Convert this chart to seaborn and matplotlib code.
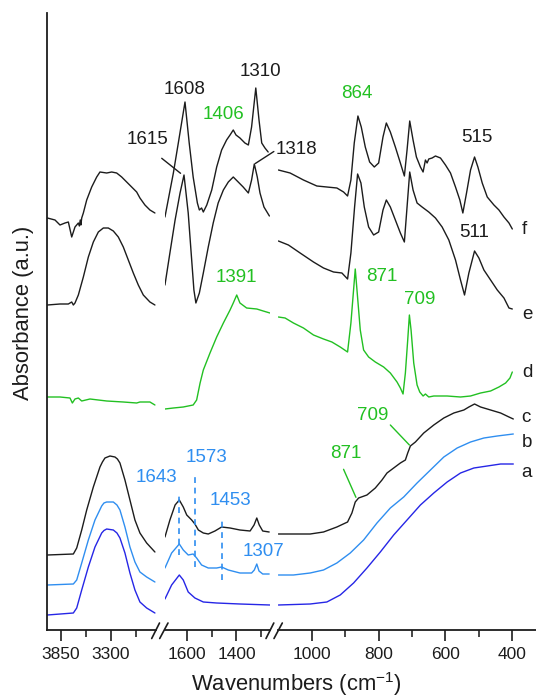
import matplotlib
matplotlib.use("Agg")
import numpy as np
import pandas as pd
import matplotlib.pyplot as plt
import seaborn as sns
from matplotlib.lines import Line2D

# ---------------- data (wavenumber in cm-1, absorbance in a.u., offset traces) ----------------
f_wn = [3997, 3913, 3858, 3803, 3766, 3729, 3693, 3656, 3645, 3635, 3628, 3619, 3601, 3564, 3509, 3454, 3418,
        3344, 3289, 3234, 3179, 3124, 3069, 3014, 2978, 2923, 2868, 2813,
        1689, 1655, 1635, 1608, 1591, 1575, 1558, 1550, 1541, 1534, 1520, 1500, 1480, 1460, 1440, 1426, 1413,
        1402, 1386, 1366, 1352, 1339, 1322, 1309, 1298, 1285, 1272,
        1100, 1065, 1025, 985, 955, 925, 905, 893, 883, 873, 862, 852, 840, 827, 813, 800, 787, 777, 765, 750,
        735, 723, 715, 707, 697, 687, 675, 667, 660, 655, 650, 640, 630, 615, 600, 585, 570, 557, 548, 537,
        525, 513, 503, 490, 475, 455, 440, 425, 410, 400]
f_abs = [4.12, 4.10, 4.05, 4.07, 4.08, 3.93, 4.03, 4.07, 4.04, 4.10, 4.05, 4.12, 4.17, 4.30, 4.43, 4.53, 4.58,
         4.57, 4.58, 4.57, 4.53, 4.48, 4.43, 4.38, 4.32, 4.25, 4.20, 4.17,
         4.13, 4.57, 4.87, 5.28, 4.87, 4.53, 4.27, 4.20, 4.22, 4.18, 4.25, 4.40, 4.63, 4.80, 4.90, 4.95, 5.00,
         4.95, 4.92, 4.87, 4.85, 5.03, 5.42, 5.10, 4.87, 4.82, 4.78,
         4.60, 4.57, 4.50, 4.44, 4.43, 4.42, 4.38, 4.34, 4.50, 4.87, 5.14, 5.03, 4.83, 4.68, 4.63, 4.67, 4.93,
         5.07, 4.98, 4.83, 4.67, 4.54, 4.80, 5.09, 4.90, 4.73, 4.63, 4.58, 4.70, 4.67, 4.71, 4.72, 4.74, 4.72,
         4.65, 4.57, 4.43, 4.30, 4.17, 4.37, 4.60, 4.73, 4.63, 4.47, 4.33, 4.25, 4.20, 4.13, 4.07, 4.01]

e_wn = [3997, 3858, 3766, 3729, 3711, 3693, 3656, 3601, 3546, 3491, 3436, 3381, 3326, 3271, 3216, 3161, 3106,
        3051, 2996, 2941, 2868, 2813,
        1689, 1669, 1648, 1628, 1612, 1595, 1581, 1572, 1564, 1550, 1534, 1514, 1494, 1474, 1453, 1433, 1413,
        1393, 1373, 1352, 1339, 1328, 1316, 1305, 1289, 1267,
        1100, 1070, 1035, 995, 965, 935, 910, 893, 883, 872, 863, 853, 843, 830, 815, 800, 787, 777, 765, 750,
        735, 723, 715, 707, 697, 685, 670, 650, 630, 610, 590, 570, 555, 543, 530, 513, 500, 485, 465, 445,
        425, 410, 400]
e_abs = [3.25, 3.26, 3.26, 3.28, 3.25, 3.27, 3.35, 3.53, 3.73, 3.88, 3.98, 4.02, 4.02, 3.99, 3.93, 3.83, 3.70,
         3.57, 3.45, 3.35, 3.28, 3.25,
         3.45, 3.77, 4.10, 4.37, 4.55, 4.17, 3.70, 3.40, 3.27, 3.37, 3.57, 3.83, 4.07, 4.27, 4.40, 4.48, 4.53,
         4.48, 4.43, 4.37, 4.50, 4.66, 4.53, 4.37, 4.23, 4.14,
         3.89, 3.85, 3.77, 3.68, 3.62, 3.58, 3.57, 3.51, 3.77, 4.23, 4.56, 4.47, 4.23, 4.03, 3.95, 3.98, 4.20,
         4.30, 4.23, 4.10, 3.97, 3.88, 4.23, 4.58, 4.40, 4.27, 4.23, 4.18, 4.12, 4.03, 3.90, 3.70, 3.50, 3.35,
         3.57, 3.79, 3.72, 3.60, 3.50, 3.40, 3.32, 3.22, 3.21]

d_wn = [3997, 3858, 3748, 3722, 3693, 3656, 3619, 3528, 3344, 3161, 3014, 2978, 2904, 2868, 2813,
        1689, 1655, 1615, 1575, 1561, 1547, 1534, 1507, 1480, 1453, 1426, 1413, 1399, 1386, 1359, 1318, 1292, 1265,
        1100, 1080, 1055, 1025, 995, 965, 940, 915, 893, 883, 870, 855, 845, 830, 810, 785, 765, 745, 735, 727,
        720, 713, 708, 703, 695, 685, 677, 667, 660, 650, 635, 595, 555, 525, 495, 465, 440, 420, 407, 400]
d_abs = [2.33, 2.33, 2.32, 2.27, 2.31, 2.32, 2.29, 2.31, 2.29, 2.28, 2.27, 2.28, 2.28, 2.28, 2.25,
         2.21, 2.22, 2.23, 2.25, 2.30, 2.47, 2.60, 2.77, 2.93, 3.07, 3.20, 3.27, 3.35, 3.27, 3.22, 3.21, 3.19, 3.17,
         3.13, 3.12, 3.07, 3.02, 2.95, 2.91, 2.88, 2.83, 2.78, 3.07, 3.61, 3.00, 2.80, 2.73, 2.68, 2.63, 2.57,
         2.48, 2.42, 2.36, 2.57, 2.90, 3.15, 3.00, 2.67, 2.45, 2.38, 2.34, 2.36, 2.33, 2.34, 2.34, 2.33, 2.34,
         2.37, 2.39, 2.43, 2.47, 2.52, 2.58]

c_wn = [3997, 3711, 3674, 3619, 3564, 3491, 3418, 3391, 3363, 3308, 3253, 3226, 3198, 3143, 3088, 3033, 2978,
        2904, 2813,
        1689, 1669, 1648, 1631, 1615, 1601, 1581, 1568, 1554, 1534, 1514, 1487, 1460, 1426, 1386, 1345, 1329,
        1318, 1308, 1294, 1268,
        1100, 1055, 1005, 965, 925, 893, 880, 870, 860, 835, 810, 790, 775, 755, 735, 720, 713, 705, 690, 665,
        635, 605, 575, 545, 530, 513, 495, 465, 435, 410, 397]
c_abs = [0.75, 0.76, 0.82, 1.00, 1.20, 1.43, 1.63, 1.68, 1.72, 1.74, 1.73, 1.71, 1.67, 1.50, 1.30, 1.10, 0.97,
         0.87, 0.78,
         0.93, 1.10, 1.25, 1.30, 1.23, 1.15, 1.10, 1.06, 1.00, 0.97, 0.96, 0.99, 1.03, 1.02, 1.00, 0.99, 1.05,
         1.12, 1.05, 0.99, 0.98,
         0.96, 0.96, 0.96, 0.98, 1.03, 1.08, 1.17, 1.28, 1.32, 1.35, 1.42, 1.50, 1.57, 1.62, 1.67, 1.70, 1.77,
         1.84, 1.88, 1.97, 2.05, 2.12, 2.17, 2.20, 2.23, 2.26, 2.23, 2.20, 2.17, 2.13, 2.11]

b_wn = [3997, 3711, 3674, 3619, 3546, 3473, 3399, 3374, 3344, 3271, 3231, 3198, 3143, 3088, 3033, 2978, 2904,
        2813,
        1689, 1662, 1631, 1615, 1595, 1575, 1561, 1541, 1514, 1480, 1460, 1433, 1386, 1339, 1328, 1318, 1309,
        1294, 1268,
        1100, 1055, 1005, 965, 925, 885, 845, 805, 765, 725, 685, 645, 605, 565, 525, 485, 445, 397]
b_abs = [0.45, 0.46, 0.50, 0.67, 0.90, 1.10, 1.24, 1.27, 1.28, 1.28, 1.25, 1.20, 1.03, 0.83, 0.68, 0.58, 0.53,
         0.48,
         0.62, 0.77, 0.86, 0.80, 0.75, 0.76, 0.72, 0.65, 0.62, 0.62, 0.63, 0.60, 0.57, 0.57, 0.60, 0.66, 0.59,
         0.56, 0.56,
         0.55, 0.55, 0.57, 0.60, 0.67, 0.77, 0.90, 1.07, 1.22, 1.33, 1.47, 1.60, 1.73, 1.82, 1.88, 1.92, 1.94, 1.96]

a_wn = [3997, 3711, 3674, 3619, 3546, 3473, 3399, 3374, 3344, 3271, 3231, 3198, 3143, 3088, 3033, 2978, 2904,
        2813,
        1689, 1662, 1631, 1615, 1595, 1568, 1534, 1480, 1386, 1265,
        1100, 1005, 955, 915, 875, 835, 795, 755, 715, 675, 635, 595, 555, 515, 475, 435, 397]
a_abs = [0.15, 0.17, 0.22, 0.40, 0.63, 0.83, 0.97, 0.995, 1.01, 1.00, 0.97, 0.92, 0.77, 0.57, 0.40, 0.28, 0.22,
         0.17,
         0.31, 0.45, 0.55, 0.50, 0.38, 0.32, 0.28, 0.27, 0.26, 0.25,
         0.25, 0.26, 0.28, 0.35, 0.47, 0.62, 0.78, 0.95, 1.10, 1.25, 1.37, 1.48, 1.57, 1.62, 1.64, 1.66, 1.66]

trace_names = ["a", "b", "c", "d", "e", "f"]

# broken-axis segments (left, right wavenumber limits) and ticks
seg_limits = [(4000, 2800), (1690, 1265), (1100, 327)]
seg_major = [[3850, 3300], [1600, 1400], [1000, 800, 600, 400]]
seg_minor = [[3575, 3025], [1500, 1300], [900, 700, 500]]

# marker lines (dashed) for band positions of trace b/c
dash_wn = [1632, 1568, 1460]
dash_lo = [0.75, 0.63, 0.50]
dash_hi = [1.37, 1.55, 1.12]

# ---------------- style ----------------
BLACK = "#1c1c1c"
GREEN = "#22c022"
LBLUE = "#2f8ef0"
DBLUE = "#2626e6"

sns.set_style("ticks")
plt.rcParams["font.family"] = ["Liberation Sans", "DejaVu Sans"]
plt.rcParams["mathtext.fontset"] = "custom"
plt.rcParams["mathtext.rm"] = "Liberation Sans"
plt.rcParams["mathtext.default"] = "regular"

W, H = 536, 697
fig = plt.figure(figsize=(W / 100, H / 100), dpi=100)
fig.patch.set_facecolor("white")

TOP, BOT = 13, 630
seg_px = [(47.1, 156.1), (164.7, 269.9), (278.4, 536.7)]
axes = []
for (x0, x1) in seg_px:
    ax = fig.add_axes([x0 / W, 1 - BOT / H, (x1 - x0) / W, (BOT - TOP) / H])
    axes.append(ax)
ax1, ax2, ax3 = axes

colors = {"a": DBLUE, "b": LBLUE, "c": BLACK, "d": GREEN, "e": BLACK, "f": BLACK}
series = {"a": (a_wn, a_abs), "b": (b_wn, b_abs), "c": (c_wn, c_abs),
          "d": (d_wn, d_abs), "e": (e_wn, e_abs), "f": (f_wn, f_abs)}

for name in trace_names:
    wn, ab = series[name]
    df = pd.DataFrame({"wn": wn, "abs": ab})
    for ax, (left, right) in zip(axes, seg_limits):
        sub = df[(df["wn"] <= left) & (df["wn"] >= right)]
        sns.lineplot(data=sub, x="wn", y="abs", ax=ax, color=colors[name], lw=1.0,
                     estimator=None, sort=False, legend=False)

for i, ax in enumerate(axes):
    ax.set_xlim(*seg_limits[i])
    ax.set_ylim(0, 6.17)
    ax.set_xlabel("")
    ax.set_ylabel("")
    ax.set_yticks([])
    ax.set_xticks(seg_major[i])
    ax.set_xticks(seg_minor[i], minor=True)
    ax.tick_params(axis="x", which="major", length=8, width=1.2, direction="out",
                   labelsize=12.5, pad=4, colors=BLACK)
    ax.tick_params(axis="x", which="minor", length=5, width=1.2, direction="out")
    for s in ["top", "right", "left"]:
        ax.spines[s].set_visible(False)
    ax.spines["bottom"].set_linewidth(1.3)
    ax.spines["bottom"].set_color(BLACK)
    ax.patch.set_alpha(0)
ax1.spines["left"].set_visible(True)
ax1.spines["left"].set_linewidth(1.3)
ax1.spines["left"].set_color(BLACK)

# axis-break marks  //
def fline(x0, y0, x1, y1, **kw):
    fig.add_artist(Line2D([x0 / W, x1 / W], [1 - y0 / H, 1 - y1 / H],
                          transform=fig.transFigure, **kw))

for (xa, xb) in [(151.7, 159.7), (266.0, 274.0)]:
    fline(xa, 638.5, xa + 7.8, 623, color=BLACK, lw=1.2)
    fline(xb, 638.5, xb + 8.3, 623, color=BLACK, lw=1.2)

# dashed marker lines
for w, lo, hi in zip(dash_wn, dash_lo, dash_hi):
    ax2.plot([w, w], [lo, hi], ls=(0, (3.5, 2.8)), color=LBLUE, lw=1.2)

# annotations
FS = 13.5
ax2.text(1608, 5.41, "1608", color=BLACK, fontsize=FS, ha="center", va="center")
ax2.text(1303, 5.59, "1310", color=BLACK, fontsize=FS, ha="center", va="center")
ax2.text(1453, 5.155, "1406", color=GREEN, fontsize=FS, ha="center", va="center")
ax2.text(1758, 4.91, "1615", color=BLACK, fontsize=FS, ha="center", va="center")
ax3.text(1046, 4.80, "1318", color=BLACK, fontsize=FS, ha="center", va="center")
ax3.text(864, 5.37, "864", color=GREEN, fontsize=FS, ha="center", va="center")
ax3.text(507, 4.92, "515", color=BLACK, fontsize=FS, ha="center", va="center")
ax3.text(513, 3.975, "511", color=BLACK, fontsize=FS, ha="center", va="center")
ax2.text(1402, 3.525, "1391", color=GREEN, fontsize=FS, ha="center", va="center")
ax3.text(792, 3.535, "871", color=GREEN, fontsize=FS, ha="center", va="center")
ax3.text(678, 3.31, "709", color=GREEN, fontsize=FS, ha="center", va="center")
ax3.text(818, 2.15, "709", color=GREEN, fontsize=FS, ha="center", va="center")
ax3.text(897, 1.77, "871", color=GREEN, fontsize=FS, ha="center", va="center")
ax2.text(1725, 1.53, "1643", color=LBLUE, fontsize=FS, ha="center", va="center")
ax2.text(1523, 1.73, "1573", color=LBLUE, fontsize=FS, ha="center", va="center")
ax2.text(1426, 1.30, "1453", color=LBLUE, fontsize=FS, ha="center", va="center")
ax2.text(1289, 0.78, "1307", color=LBLUE, fontsize=FS, ha="center", va="center")

# leader lines
ax2.plot([1702, 1626], [4.717, 4.567], color=BLACK, lw=1.0, clip_on=False)
ax2.plot([1324, 1249], [4.665, 4.785], color=BLACK, lw=1.0, clip_on=False)
ax3.plot([765, 708], [2.05, 1.85], color=GREEN, lw=1.0)
ax3.plot([905, 868], [1.607, 1.327], color=GREEN, lw=1.0)

# trace letters
letter_pos = {"f": (372, 4.01), "e": (370, 3.16), "d": (370, 2.58),
              "c": (372, 2.13), "b": (372, 1.88), "a": (372, 1.58)}
for k, (xw, yv) in letter_pos.items():
    ax3.text(xw, yv, k, color=BLACK, fontsize=FS, ha="left", va="center")

# axis titles
fig.text(296 / W, 1 - 684 / H, "Wavenumbers (cm$^{-1}$)", fontsize=15.8, color=BLACK,
         ha="center", va="center")
fig.text(24 / W, 1 - 312.5 / H, "Absorbance (a.u.)", fontsize=15.8, color=BLACK,
         ha="center", va="center", rotation=90)

fig.savefig("out.png", dpi=100, facecolor="white")
